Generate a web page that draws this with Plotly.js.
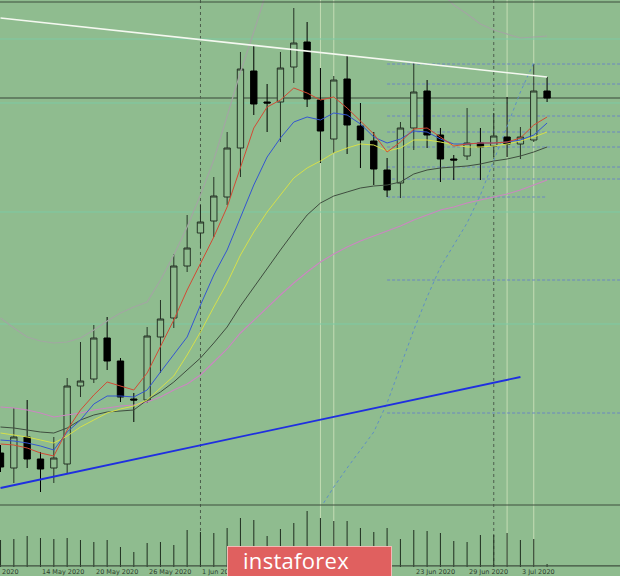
<!DOCTYPE html>
<html>
<head>
<meta charset="utf-8">
<script src="https://cdn.plot.ly/plotly-3.0.1.min.js"></script>
<style>
  html, body { margin: 0; padding: 0; background: #8fbc8f; }
  #wrap { position: relative; width: 620px; height: 576px; overflow: hidden; }
  #chart { width: 620px; height: 576px; }
  #logo { position: absolute; left: 227px; top: 546px; width: 165px; height: 34px;
          background: #e0605f; border: 1px solid #f3b9b6; box-sizing: border-box;
          color: #ffffff; font-family: 'Open Sans', 'DejaVu Sans', sans-serif; font-size: 22px;
          line-height: 27px; padding-left: 15px; letter-spacing: 0.3px; }
</style>
</head>
<body>
<div id="wrap">
  <div id="chart"></div>
  <div id="logo">instaforex</div>
</div>
<script>
// ---------- DATA ----------
const dates = [
  '2020-05-11','2020-05-12','2020-05-13','2020-05-14','2020-05-15',
  '2020-05-18','2020-05-19','2020-05-20','2020-05-21','2020-05-22',
  '2020-05-25','2020-05-26','2020-05-27','2020-05-28','2020-05-29',
  '2020-06-01','2020-06-02','2020-06-03','2020-06-04','2020-06-05',
  '2020-06-08','2020-06-09','2020-06-10','2020-06-11','2020-06-12',
  '2020-06-15','2020-06-16','2020-06-17','2020-06-18','2020-06-19',
  '2020-06-22','2020-06-23','2020-06-24','2020-06-25','2020-06-26',
  '2020-06-29','2020-06-30','2020-07-01','2020-07-02','2020-07-03',
  '2020-07-06','2020-07-07'
];
const open  = [1.0997,1.0982,1.1013,1.0991,1.0982,1.0986,1.1064,1.1071,1.1112,1.1089,
               1.1051,1.1050,1.1113,1.1132,1.1184,1.1217,1.1229,1.1253,1.1302,1.1379,
               1.1348,1.1348,1.1383,1.1408,1.1350,1.1311,1.1371,1.1324,1.1309,1.1280,
               1.1267,1.1322,1.1359,1.1315,1.1291,1.1294,1.1307,1.1304,1.1313,1.1306,
               1.1310,1.1359];
const high  = [1.1005,1.1042,1.1050,1.0998,1.1013,1.1072,1.1108,1.1125,1.1133,1.1092,
               1.1057,1.1123,1.1150,1.1196,1.1235,1.1245,1.1273,1.1318,1.1398,1.1405,
               1.1366,1.1398,1.1442,1.1428,1.1382,1.1374,1.1394,1.1347,1.1318,1.1292,
               1.1328,1.1387,1.1370,1.1322,1.1295,1.1342,1.1322,1.1337,1.1353,1.1323,
               1.1386,1.1373];
const low   = [1.0978,1.0967,1.0982,1.0958,1.0967,1.0977,1.1053,1.1067,1.1080,1.1048,
               1.1028,1.1047,1.1077,1.1122,1.1178,1.1202,1.1213,1.1245,1.1273,1.1335,
               1.1318,1.1308,1.1367,1.1343,1.1287,1.1297,1.1296,1.1282,1.1265,1.1253,
               1.1252,1.1300,1.1302,1.1268,1.1270,1.1290,1.1270,1.1293,1.1293,1.1291,
               1.1308,1.1348];
const close = [1.0983,1.1013,1.0991,1.0981,1.0992,1.1064,1.1069,1.1112,1.1089,1.1053,
               1.1050,1.1114,1.1131,1.1184,1.1202,1.1228,1.1254,1.1302,1.1381,1.1346,
               1.1347,1.1382,1.1407,1.1351,1.1319,1.1370,1.1325,1.1310,1.1281,1.1260,
               1.1322,1.1358,1.1315,1.1291,1.1290,1.1307,1.1303,1.1314,1.1306,1.1313,
               1.1359,1.1352];
const volume = [27,28,31,29,28,29,27,25,27,20,15,24,25,22,37,35,34,39,49,47,
                31,38,44,56,49,46,46,39,35,39,28,37,36,34,26,25,32,32,34,27,28,3]
               .map(v => v * 1000);

const maRed    = [1.1006,1.1005,1.1002,1.0997,1.0994,1.1020,1.1040,1.1055,1.1068,1.1064,
                  1.1060,1.1077,1.1104,1.1130,1.1160,1.1187,1.1213,1.1243,1.1282,1.1322,
                  1.1343,1.1350,1.1362,1.1357,1.1350,1.1353,1.1342,1.1329,1.1316,1.1298,
                  1.1308,1.1321,1.1322,1.1313,1.1304,1.1306,1.1307,1.1307,1.1308,1.1312,
                  1.1325,1.1333];
const maBlue   = [1.1010,1.1009,1.1007,1.1004,1.1000,1.1018,1.1030,1.1046,1.1054,1.1054,
                  1.1053,1.1060,1.1078,1.1096,1.1113,1.1145,1.1175,1.1200,1.1232,1.1265,
                  1.1293,1.1312,1.1328,1.1333,1.1330,1.1337,1.1335,1.1326,1.1313,1.1307,
                  1.1311,1.1319,1.1318,1.1311,1.1306,1.1306,1.1307,1.1307,1.1308,1.1310,
                  1.1315,1.1327];
const maYellow = [1.1017,1.1015,1.1013,1.1010,1.1007,1.1014,1.1023,1.1030,1.1037,1.1041,
                  1.1044,1.1050,1.1062,1.1074,1.1095,1.1118,1.1143,1.1167,1.1195,1.1218,
                  1.1238,1.1255,1.1272,1.1282,1.1289,1.1297,1.1302,1.1306,1.1305,1.1299,
                  1.1302,1.1310,1.1310,1.1308,1.1305,1.1303,1.1303,1.1304,1.1306,1.1309,
                  1.1313,1.1318];
const maGray   = [1.1023,1.1022,1.1020,1.1018,1.1017,1.1022,1.1030,1.1035,1.1038,1.1039,
                  1.1040,1.1050,1.1058,1.1068,1.1080,1.1092,1.1107,1.1123,1.1144,1.1163,
                  1.1182,1.1200,1.1218,1.1235,1.1247,1.1254,1.1258,1.1262,1.1264,1.1265,
                  1.1268,1.1276,1.1280,1.1282,1.1283,1.1284,1.1286,1.1289,1.1291,1.1294,
                  1.1298,1.1303];
const maPink   = [1.1043,1.1042,1.1040,1.1037,1.1033,1.1035,1.1037,1.1040,1.1042,1.1044,
                  1.1045,1.1048,1.1053,1.1060,1.1066,1.1075,1.1088,1.1101,1.1117,1.1130,
                  1.1143,1.1155,1.1167,1.1178,1.1188,1.1196,1.1203,1.1209,1.1214,1.1219,
                  1.1224,1.1230,1.1235,1.1240,1.1243,1.1247,1.1250,1.1253,1.1256,1.1260,
                  1.1265,1.1270];
const bandUpper = [1.1132,1.1122,1.1113,1.1109,1.1107,1.1108,1.1112,1.1120,1.1129,1.1137,
                   1.1143,1.1148,1.1170,1.1195,1.1223,1.1255,1.1290,1.1335,1.1378,1.1418,
                   1.1460,1.1490,1.1520,1.1535,1.1540,1.1538,1.1530,1.1520,1.1510,1.1500,
                   1.1490,1.1480,1.1470,1.1458,1.1445,1.1436,1.1426,1.1420,1.1416,1.1412,
                   1.1413,1.1414];
const dottedCurve = [null,null,null,null,null,null,null,null,null,null,
                     null,null,null,null,null,null,null,null,null,null,
                     null,null,null,null,1.0942,1.0963,1.0982,1.1000,1.1018,1.1047,
                     1.1083,1.1120,1.1153,1.1183,1.1205,1.1227,1.1255,1.1290,1.1325,1.1358,
                     1.1387,null];

const whiteTrendDates  = ['2020-05-11','2020-07-07'];
const whiteTrendPrices = [1.1432, 1.1373];
const blueTrendDates   = ['2020-05-11','2020-07-03'];
const blueTrendPrices  = [1.0962, 1.1073];

const levelStart  = '2020-06-19';
const levelPrices = [1.1386,1.1366,1.1334,1.1318,1.1303,1.1283,1.1271,1.1170,1.1037];
const shortLevelPrices = [1.1253];
const shortLevelEnd = '2020-07-07';
const tealLevels = [1.1411, 1.1347, 1.1238, 1.1126];
const darkSeparators  = ['2020-06-01','2020-07-01'];
const lightSeparators = ['2020-06-12','2020-06-15','2020-07-02','2020-07-06'];
const labelDates = ['2020-05-14','2020-05-20','2020-05-26','2020-06-01',
                    '2020-06-23','2020-06-29','2020-07-03'];
const cutLabelText = '2020';
const months = ['Jan','Feb','Mar','Apr','May','Jun','Jul','Aug','Sep','Oct','Nov','Dec'];

// ---------- BUILD ----------
const idx = dates.map((d, i) => i);
const pos = d => dates.indexOf(d);
const fmt = d => { const p = d.split('-'); return (+p[2]) + ' ' + months[+p[1]-1] + ' ' + p[0]; };

const bg = '#8fbc8f';
function line(y, color, width, dash) {
  return {type:'scatter', mode:'lines', x: idx, y: y, xaxis:'x', yaxis:'y',
          line:{color: color, width: width, dash: dash || 'solid'}, hoverinfo:'skip',
          connectgaps:false, cliponaxis:true};
}

const traces = [
  {type:'bar', x: idx, y: volume, xaxis:'x', yaxis:'y2', width: 0.08,
   marker:{color:'#263626', line:{width:0}}, hoverinfo:'skip'},
  line(bandUpper, '#a2a6a2', 1.2),
  line(dottedCurve, '#5f8fc4', 1, 'dot'),
  line(maPink, '#cc86c2', 1.1),
  line(maGray, '#3f4d3f', 1),
  line(maYellow, '#d6e04a', 1),
  line(maBlue, '#3456d0', 1),
  line(maRed, '#d24a34', 1),
  {type:'candlestick', x: idx, open: open, high: high, low: low, close: close,
   xaxis:'x', yaxis:'y', whiskerwidth: 0,
   increasing:{line:{color:'#263326', width:1}, fillcolor: bg},
   decreasing:{line:{color:'#000000', width:1}, fillcolor:'#000000'},
   hoverinfo:'skip'},
  {type:'scatter', mode:'lines', x: whiteTrendDates.map(pos), y: whiteTrendPrices,
   xaxis:'x', yaxis:'y', line:{color:'#f4f8f0', width:1.6}, hoverinfo:'skip'},
  {type:'scatter', mode:'lines', x: blueTrendDates.map(pos), y: blueTrendPrices,
   xaxis:'x', yaxis:'y', line:{color:'#1f2fe0', width:1.8}, hoverinfo:'skip'}
];

const shapes = [];
darkSeparators.forEach(d => shapes.push({type:'line', xref:'x', yref:'paper', x0: pos(d), x1: pos(d),
  y0: 0, y1: 1, line:{color:'#4c5e4c', width:1, dash:'dot'}, layer:'below'}));
lightSeparators.forEach(d => shapes.push({type:'line', xref:'x', yref:'paper', x0: pos(d), x1: pos(d),
  y0: 0, y1: 1, line:{color:'#c4dcb4', width:1}, layer:'below'}));
tealLevels.forEach(p => shapes.push({type:'line', xref:'paper', yref:'y', x0: 0, x1: 1, y0: p, y1: p,
  line:{color:'#7ccaa4', width:1}, layer:'below'}));
levelPrices.forEach(p => shapes.push({type:'line', xref:'x', yref:'y', x0: pos(levelStart), x1: 60, y0: p, y1: p,
  line:{color:'#6a86c2', width:1, dash:'3px,2px'}, layer:'below'}));
shortLevelPrices.forEach(p => shapes.push({type:'line', xref:'x', yref:'y', x0: pos(levelStart), x1: pos(shortLevelEnd), y0: p, y1: p,
  line:{color:'#6a86c2', width:1, dash:'3px,2px'}, layer:'below'}));
shapes.push({type:'line', xref:'paper', yref:'y', x0: 0, x1: 1, y0: close[close.length-1], y1: close[close.length-1],
  line:{color:'#556e55', width:1.4}, layer:'below'});
const priceBottom = 1 - 505/567;
[1 - 2/567, priceBottom, 0.002].forEach(y => shapes.push({type:'line', xref:'paper', yref:'paper',
  x0: 0, x1: 1, y0: y, y1: y, line:{color:'#3f4f3f', width:1.2}}));

const labelFont = {family:'DejaVu Sans, sans-serif', size:6.5, color:'#2e3d2e'};
const annotations = labelDates.map(d => ({x: pos(d), xref:'x', y: -0.0088, yref:'paper',
  xanchor:'left', yanchor:'middle', text: fmt(d), showarrow:false, font: labelFont}));
annotations.push({x: 0, xref:'paper', y: -0.0088, yref:'paper', xanchor:'left', yanchor:'middle',
  text: cutLabelText, showarrow:false, font: labelFont});

const layout = {
  width: 620, height: 576,
  margin:{l:0, r:0, t:0, b:9, pad:0},
  paper_bgcolor: bg, plot_bgcolor: bg,
  showlegend:false, dragmode:false, boxgap: 0.32,
  xaxis:{range:[-0.0375, 46.47], visible:false, rangeslider:{visible:false}, fixedrange:true},
  yaxis:{domain:[priceBottom, 1], range:[1.0945, 1.1450], visible:false, fixedrange:true},
  yaxis2:{domain:[0, 1 - 508/567], range:[0, 59000], visible:false, fixedrange:true},
  shapes: shapes,
  annotations: annotations
};

Plotly.newPlot('chart', traces, layout, {staticPlot:true, displayModeBar:false});
</script>
</body>
</html>
